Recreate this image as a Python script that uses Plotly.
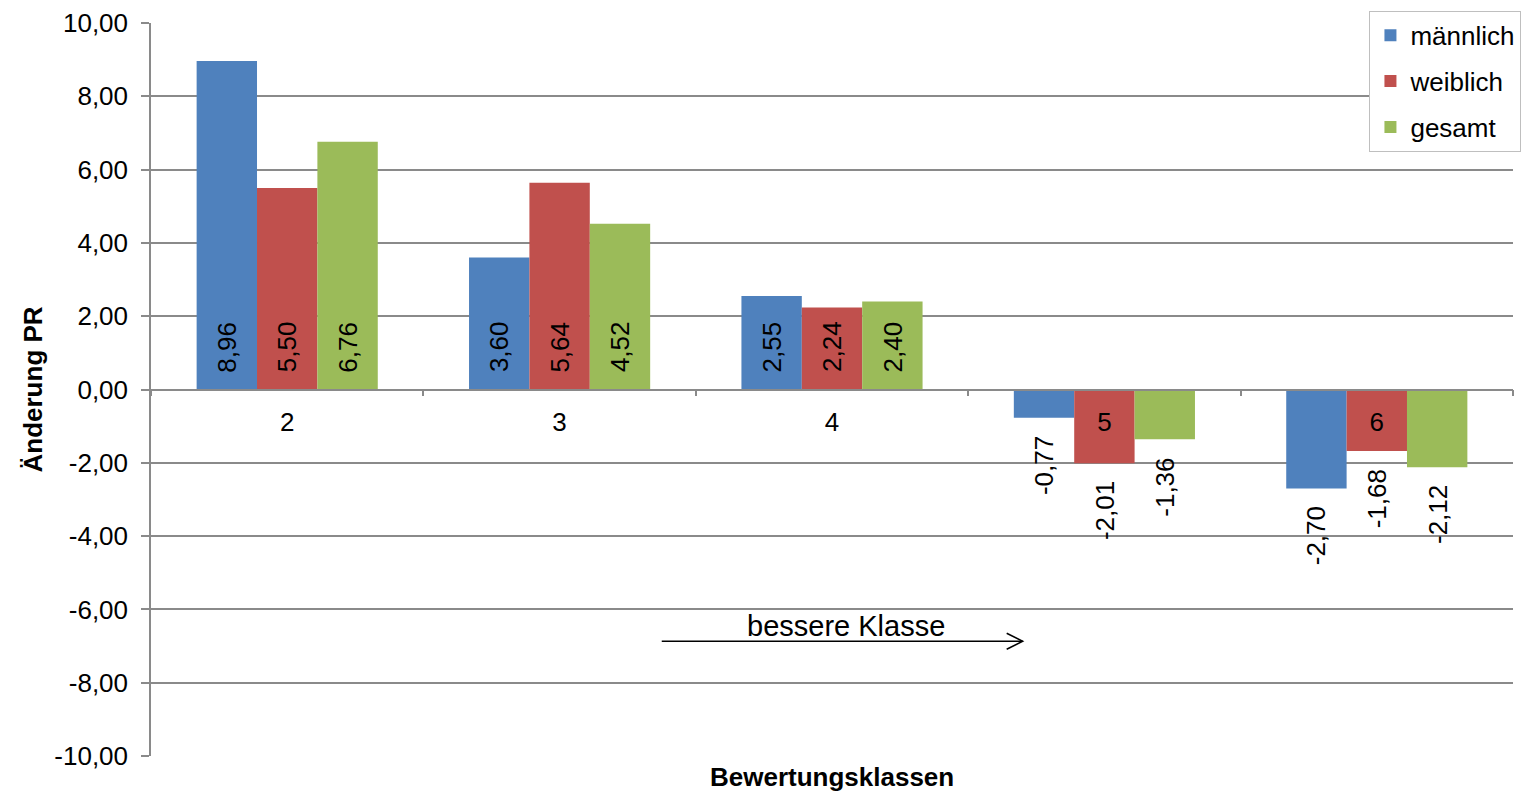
import plotly.graph_objects as go

categories = ["2", "3", "4", "5", "6"]
maennlich = [8.96, 3.60, 2.55, -0.77, -2.70]
weiblich = [5.50, 5.64, 2.24, -2.01, -1.68]
gesamt = [6.76, 4.52, 2.40, -1.36, -2.12]
series_names = ["männlich", "weiblich", "gesamt"]
series_values = [maennlich, weiblich, gesamt]
series_colors = ["#4F81BD", "#C0504D", "#9BBB59"]
y_tick_vals = [-10, -8, -6, -4, -2, 0, 2, 4, 6, 8, 10]
y_tick_labels = ["-10,00", "-8,00", "-6,00", "-4,00", "-2,00", "0,00",
                 "2,00", "4,00", "6,00", "8,00", "10,00"]
x_title = "Bewertungsklassen"
y_title = "Änderung PR"
arrow_text = "bessere Klasse"

FONT = "Liberation Sans, Arial, sans-serif"
GRID = "#8a8a8a"

def fmt(v):
    return f"{v:.2f}".replace(".", ",")

fig = go.Figure()
for i, (name, vals, col) in enumerate(zip(series_names, series_values, series_colors)):
    fig.add_trace(go.Bar(
        x=categories, y=vals, name=name, marker=dict(color=col, line=dict(width=0)),
        legendgroup=name,
    ))

bar_px = 60.5
annotations = []
for i, vals in enumerate(series_values):
    off = (i - 1) * bar_px
    for j, v in enumerate(vals):
        if v >= 0:
            annotations.append(dict(x=j, y=0, xref="x", yref="y", text=fmt(v), textangle=-90,
                                    showarrow=False, yanchor="bottom", xanchor="center",
                                    xshift=off, yshift=15,
                                    font=dict(family=FONT, size=26, color="black")))
        else:
            annotations.append(dict(x=j, y=v, xref="x", yref="y", text=fmt(v), textangle=-90,
                                    showarrow=False, yanchor="top", xanchor="center",
                                    xshift=off, yshift=-16,
                                    font=dict(family=FONT, size=26, color="black")))

# axis titles
annotations.append(dict(x=0.5, y=0, xref="paper", yref="paper", yanchor="top", yshift=-4,
                        text=f"<b>{x_title}</b>", showarrow=False,
                        font=dict(family=FONT, size=26, color="black")))
annotations.append(dict(x=0, y=0.5, xref="paper", yref="paper", xanchor="center", xshift=-119,
                        text=f"<b>{y_title}</b>", textangle=-90, showarrow=False,
                        font=dict(family=FONT, size=26, color="black")))
# arrow label
annotations.append(dict(x=2.053, y=-6.46, xref="x", yref="y", text=arrow_text, showarrow=False,
                        font=dict(family=FONT, size=29, color="black")))

shapes = [
    dict(type="line", xref="x", yref="y", x0=1.375, x1=2.70, y0=-6.87, y1=-6.87,
         line=dict(color="black", width=1.5)),
    dict(type="path", xref="x", yref="y", xsizemode="pixel", ysizemode="pixel",
         xanchor=2.70, yanchor=-6.87, path="M-16,-8 L0,0 L-16,8",
         line=dict(color="black", width=1.5)),
]

fig.update_layout(
    width=1523, height=791,
    margin=dict(l=151, r=10, t=23, b=35, autoexpand=False),
    paper_bgcolor="white", plot_bgcolor="white",
    font=dict(family=FONT, size=26, color="black"),
    barmode="group", bargap=0.335, bargroupgap=0,
    separators=",.",
    showlegend=True,
    legend=dict(x=1.0062, y=1.0165, xanchor="right", yanchor="top",
                bgcolor="white", bordercolor="#bfbfbf", borderwidth=1,
                font=dict(family=FONT, size=26, color="black"),
                traceorder="grouped", tracegroupgap=9),
    xaxis=dict(type="category", anchor="free", position=0.5,
               showline=True, linecolor=GRID, linewidth=1.5,
               ticks="outside", tickson="boundaries", ticklen=6, tickcolor=GRID, tickwidth=1.5,
               showgrid=False, tickfont=dict(family=FONT, size=26, color="black"),
               ticklabelstandoff=10, range=[-0.5, 4.5]),
    yaxis=dict(range=[-10, 10], tickvals=y_tick_vals, ticktext=y_tick_labels,
               showline=True, linecolor=GRID, linewidth=1.5,
               ticks="outside", ticklen=8, tickcolor=GRID, tickwidth=1.5,
               showgrid=True, gridcolor=GRID, gridwidth=1.5, zeroline=False,
               tickfont=dict(family=FONT, size=26, color="black"), ticklabelstandoff=8),
    annotations=annotations,
    shapes=shapes,
)

fig.write_html("out.html", config={"displayModeBar": False},
               post_script="document.body.style.margin='0';document.body.style.overflow='hidden';")
